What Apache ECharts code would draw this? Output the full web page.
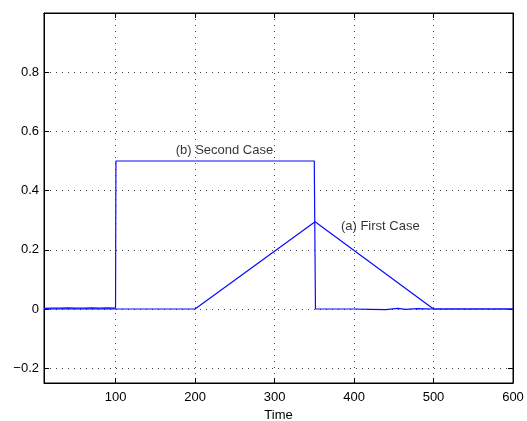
<!DOCTYPE html>
<html><head><meta charset="utf-8">
<script src="https://cdn.jsdelivr.net/npm/echarts@6/dist/echarts.min.js"></script>
<style>html,body{margin:0;padding:0;background:#fff}#c{width:527px;height:421px}</style>
</head><body><div id="c"></div>
<script>
// Series (a) First Case
var timeA = [10, 200, 351, 500, 600];
var valA  = [0, 0, 0.295, 0, 0];
// Series (b) Second Case
var timeB = [10, 20, 30, 40, 50, 60, 70, 80, 90, 100, 100.5, 350, 351.5, 400, 420, 440, 455, 465, 480, 500, 600];
var valB  = [0.002, 0.003, 0.003, 0.004, 0.003, 0.003, 0.004, 0.003, 0.004, 0.003, 0.5, 0.5, 0, 0, -0.001, -0.002, 0.002, -0.001, 0.001, 0, 0];
// Tick labels
var xTicks = [100, 200, 300, 400, 500, 600];
var yTicks = [-0.2, 0, 0.2, 0.4, 0.6, 0.8];
// Annotations
var annText = ['(b) Second Case', '(a) First Case'];
var annX = [237, 433];
var annY = [0.535, 0.28];

var font = 'Liberation Sans, Helvetica, Arial, sans-serif';
function zip(a, b) { return a.map(function (v, i) { return [v, b[i]]; }); }

var gridLine = { show: true, lineStyle: { color: '#444', type: [1, 5], width: 1 } };
var tickIn = { show: true, inside: true, length: 5, lineStyle: { color: '#000' } };

var option = {
  animation: false,
  grid: { left: 44, right: 14, top: 13, bottom: 38, outerBoundsMode: 'none', containLabel: false,
          show: true, borderColor: '#000', borderWidth: 1, backgroundColor: 'transparent' },
  xAxis: [{
    type: 'value', min: 10, max: 600,
    name: 'Time', nameLocation: 'middle', nameGap: 22,
    nameTextStyle: { color: '#000', fontSize: 13, fontFamily: font },
    axisLine: { show: true, onZero: false, lineStyle: { color: '#000', width: 1 } },
    axisTick: Object.assign({ customValues: xTicks }, tickIn),
    axisLabel: { customValues: xTicks, color: '#000', fontSize: 13, fontFamily: font, margin: 8 },
    splitLine: gridLine
  }, {
    type: 'value', min: 10, max: 600, position: 'top',
    axisLine: { show: true, onZero: false, lineStyle: { color: '#000', width: 1 } },
    axisTick: Object.assign({ customValues: xTicks }, tickIn),
    axisLabel: { show: false }, splitLine: { show: false }
  }],
  yAxis: [{
    type: 'value', min: -0.25, max: 1.0,
    axisLine: { show: true, onZero: false, lineStyle: { color: '#000', width: 1 } },
    axisTick: Object.assign({ customValues: yTicks }, tickIn),
    axisLabel: { customValues: yTicks, color: '#000', fontSize: 13, fontFamily: font, margin: 5,
      formatter: function (v) { return v < 0 ? '\u2212' + Math.abs(v).toFixed(1) : (v === 0 ? '0' : v.toFixed(1)); } },
    splitLine: gridLine
  }, {
    type: 'value', min: -0.25, max: 1.0, position: 'right',
    axisLine: { show: true, onZero: false, lineStyle: { color: '#000', width: 1 } },
    axisTick: Object.assign({ customValues: yTicks }, tickIn),
    axisLabel: { show: false }, splitLine: { show: false }
  }],
  series: [{
    name: '(a) First Case', type: 'line', data: zip(timeA, valA), showSymbol: false,
    lineStyle: { color: '#0a0aff', width: 1.2 }
  }, {
    name: '(b) Second Case', type: 'line', data: zip(timeB, valB), showSymbol: false,
    lineStyle: { color: '#0a0aff', width: 1.2 }
  }, {
    type: 'scatter', symbolSize: 0, silent: true, xAxisIndex: 1, yAxisIndex: 1,
    data: annText.map(function (t, i) { return { value: [annX[i], annY[i]], name: t }; }),
    label: { show: true, position: 'inside', formatter: '{b}', color: '#000', fontSize: 13, fontFamily: font }
  }]
};
var chart = echarts.init(document.getElementById('c'), null, { renderer: 'canvas' });
chart.setOption(option);
</script>
</body></html>
